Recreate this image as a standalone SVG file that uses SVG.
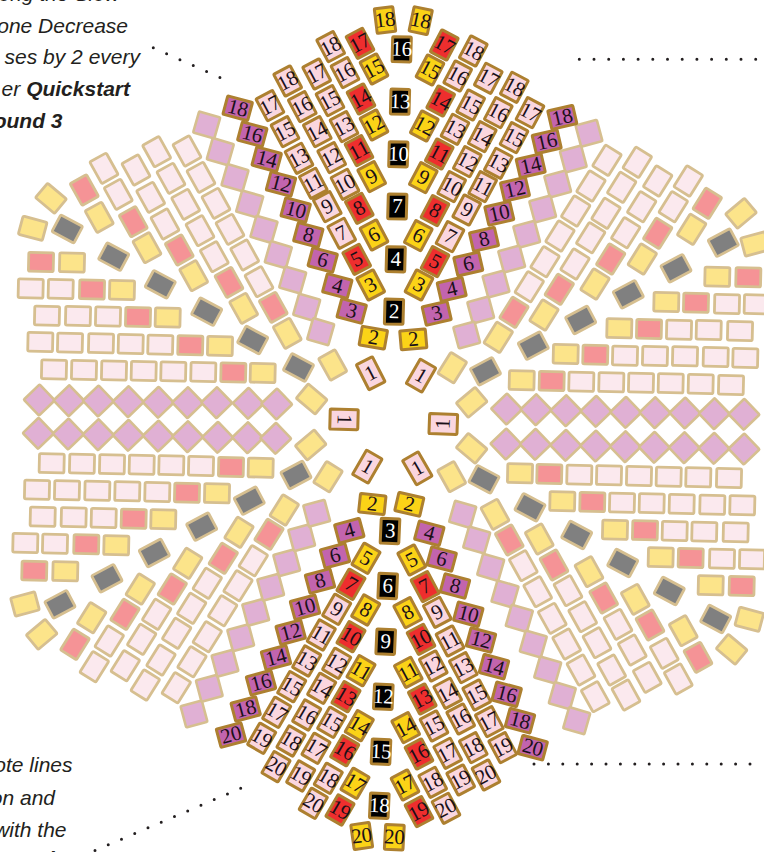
<svg xmlns="http://www.w3.org/2000/svg" width="764" height="852" viewBox="0 0 764 852">
<style>
.p,.s,.y,.g,.m{stroke:#d6bf90}
.p{fill:#fbe9ee}.s{fill:#f59396}.y{fill:#fce48a}.g{fill:#808080}.m{fill:#e0b0d4}
.ny,.nr,.nk,.np,.nm{stroke:#ad8030}
.ny{fill:#fbd317}.nr{fill:#ee2e2e}.nk{fill:#000}.np{fill:#fad6df}.nm{fill:#c264ae}
text{stroke:none}
.num text{font-family:"Liberation Serif",serif;font-size:21px;fill:#1a1018;text-anchor:middle;letter-spacing:-.3px}
.nk text{fill:#fff}
.note{font-family:"Liberation Sans",sans-serif;font-size:21px;font-style:italic;fill:#231f20;text-anchor:end}
.note tspan{font-weight:bold}
.dot{fill:none;stroke:#231f20;stroke-width:3;stroke-linecap:round}
</style>
<defs>
<rect id="r0" x="-12.4" y="-9.4" width="24.8" height="18.8" rx="1.5" stroke-width="2.8"/>
<rect id="q0" x="-11" y="-11" width="22" height="22" rx="1" stroke-width="2.6"/>
<use id="H" href="#r0" transform="rotate(1.3)"/>
<use id="A" href="#r0" transform="rotate(61)"/>
<use id="B" href="#r0" transform="rotate(-58)"/>
<use id="C" href="#r0" transform="rotate(28)"/>
<use id="D" href="#r0" transform="rotate(-28)"/>
<use id="E" href="#r0" transform="rotate(40)"/>
<use id="F" href="#r0" transform="rotate(-40)"/>
<use id="I" href="#r0" transform="rotate(15)"/>
<use id="J" href="#r0" transform="rotate(-15)"/>
<use id="Q" href="#q0" transform="rotate(46)"/>
<use id="S" href="#q0" transform="rotate(16)"/>
<use id="T" href="#q0" transform="rotate(-15)"/>
<rect id="P" x="-9.3" y="-12.4" width="18.6" height="24.8" rx="1" stroke-width="3"/>
<rect id="L" x="-12.8" y="-9.4" width="25.6" height="18.8" rx="1" stroke-width="3"/>
<rect id="O" x="-9" y="-14" width="18" height="28" rx="1" stroke-width="3"/>
<rect id="W" x="-14" y="-10" width="28" height="20" rx="1" stroke-width="3"/>
</defs>

<g id="notes">
<text class="note" x="120" y="1">ong the Slow</text>
<text class="note" x="128" y="33">one Decrease</text>
<text class="note" x="140" y="64">ses by 2 every</text>
<text class="note" x="130" y="96">er <tspan>Quickstart</tspan></text>
<text class="note" x="62.5" y="128"><tspan>ound 3</tspan></text>
<text class="note" x="72.5" y="772">ote lines</text>
<text class="note" x="55" y="805">on and</text>
<text class="note" x="66.5" y="836.5">with the</text>
<text class="note" style="text-anchor:start" x="22" y="866"><tspan>Point</tspan></text>
</g>

<g id="connectors">
<path class="dot" stroke-dasharray="0 14.6" d="M153.3 47.7L222 78.5"/>
<path class="dot" stroke-dasharray="0 14.7" d="M579.3 59.3H758"/>
<path class="dot" stroke-dasharray="0 14.4" d="M534 764H762"/>
<path class="dot" stroke-dasharray="0 14.4" d="M240.7 788.3L93.7 851"/>
</g>

<g id="pale-tiles">
<!-- rows left -->
<use href="#H" class="s" x="41" y="262"/><use href="#H" class="y" x="72" y="262.5"/>
<use href="#H" class="p" x="30.7" y="288.5"/><use href="#H" class="p" x="60.7" y="289"/><use href="#H" class="s" x="92" y="289.5"/><use href="#H" class="y" x="122" y="290"/>
<use href="#H" class="p" x="47" y="315.7"/><use href="#H" class="p" x="78" y="316"/><use href="#H" class="p" x="108" y="316.5"/><use href="#H" class="s" x="138" y="317"/><use href="#H" class="y" x="167.7" y="317.5"/>
<use href="#H" class="p" x="40.3" y="342"/><use href="#H" class="p" x="70" y="342.7"/><use href="#H" class="p" x="101" y="343.3"/><use href="#H" class="p" x="130.7" y="344"/><use href="#H" class="p" x="160.3" y="344.7"/><use href="#H" class="s" x="190.3" y="345.3"/><use href="#H" class="y" x="220" y="346"/>
<use href="#H" class="p" x="54" y="369.5"/><use href="#H" class="p" x="84" y="370"/><use href="#H" class="p" x="114" y="370.5"/><use href="#H" class="p" x="143.7" y="371"/><use href="#H" class="p" x="173.3" y="371.5"/><use href="#H" class="p" x="203.3" y="372"/><use href="#H" class="s" x="233.3" y="372.5"/><use href="#H" class="y" x="262.7" y="373"/>
<use href="#H" class="p" x="51.7" y="463.3"/><use href="#H" class="p" x="82" y="463.7"/><use href="#H" class="p" x="112" y="464.3"/><use href="#H" class="p" x="141.7" y="464.7"/><use href="#H" class="p" x="171.3" y="465.3"/><use href="#H" class="p" x="201" y="466"/><use href="#H" class="s" x="231" y="467"/><use href="#H" class="y" x="260.7" y="467.7"/>
<use href="#H" class="p" x="37" y="489.7"/><use href="#H" class="p" x="67" y="490.3"/><use href="#H" class="p" x="97.3" y="490.7"/><use href="#H" class="p" x="127.3" y="491.3"/><use href="#H" class="p" x="157.3" y="492"/><use href="#H" class="s" x="187" y="492.7"/><use href="#H" class="y" x="217" y="493.3"/>
<use href="#H" class="p" x="42.7" y="516.7"/><use href="#H" class="p" x="73.7" y="517.3"/><use href="#H" class="p" x="103.7" y="518"/><use href="#H" class="s" x="133.7" y="518.7"/><use href="#H" class="y" x="163.3" y="519.3"/>
<use href="#H" class="p" x="25.3" y="543"/><use href="#H" class="p" x="55" y="543.7"/><use href="#H" class="s" x="86.3" y="544.3"/><use href="#H" class="y" x="116.3" y="545.3"/>
<use href="#H" class="s" x="34.3" y="570.7"/><use href="#H" class="y" x="65.3" y="571.3"/>
<!-- rows right -->
<use href="#H" class="y" x="717.3" y="276.7"/><use href="#H" class="s" x="748.3" y="277.3"/>
<use href="#H" class="y" x="666.3" y="302"/><use href="#H" class="s" x="696" y="302.7"/><use href="#H" class="p" x="727" y="304"/><use href="#H" class="p" x="756.7" y="304.3"/>
<use href="#H" class="y" x="619.3" y="328.3"/><use href="#H" class="s" x="649" y="329"/><use href="#H" class="p" x="679" y="329.7"/><use href="#H" class="p" x="708.7" y="330"/><use href="#H" class="p" x="740" y="331"/>
<use href="#H" class="y" x="565.7" y="354"/><use href="#H" class="s" x="595.3" y="354.7"/><use href="#H" class="p" x="625" y="355.7"/><use href="#H" class="p" x="655" y="356"/><use href="#H" class="p" x="685" y="356.3"/><use href="#H" class="p" x="715.7" y="357"/><use href="#H" class="p" x="745.3" y="358"/>
<use href="#H" class="y" x="521.7" y="380.3"/><use href="#H" class="s" x="551.7" y="381"/><use href="#H" class="p" x="581.3" y="381.7"/><use href="#H" class="p" x="611.3" y="382.3"/><use href="#H" class="p" x="641" y="382.7"/><use href="#H" class="p" x="670.7" y="383.3"/><use href="#H" class="p" x="700.7" y="384"/><use href="#H" class="p" x="731" y="385"/>
<use href="#H" class="y" x="520" y="473.3"/><use href="#H" class="s" x="549.3" y="474"/><use href="#H" class="p" x="579.3" y="474.7"/><use href="#H" class="p" x="609" y="475.3"/><use href="#H" class="p" x="639" y="476"/><use href="#H" class="p" x="668.7" y="476.7"/><use href="#H" class="p" x="698.3" y="477.3"/><use href="#H" class="p" x="729" y="478"/>
<use href="#H" class="y" x="562.3" y="501.3"/><use href="#H" class="s" x="592.3" y="502"/><use href="#H" class="p" x="622" y="502.7"/><use href="#H" class="p" x="651.7" y="503.3"/><use href="#H" class="p" x="681.7" y="504"/><use href="#H" class="p" x="712.3" y="504.7"/><use href="#H" class="p" x="742.3" y="505.3"/>
<use href="#H" class="y" x="615" y="529.7"/><use href="#H" class="s" x="645" y="530.3"/><use href="#H" class="p" x="674.7" y="531"/><use href="#H" class="p" x="704.3" y="531.7"/><use href="#H" class="p" x="735.7" y="532.3"/>
<use href="#H" class="y" x="660.7" y="557.3"/><use href="#H" class="s" x="690.7" y="558"/><use href="#H" class="p" x="722" y="558.7"/><use href="#H" class="p" x="752" y="559.3"/>
<use href="#H" class="y" x="710.7" y="585.3"/><use href="#H" class="s" x="741.7" y="586"/>
<!-- diamonds -->
<use href="#Q" class="m" x="39.3" y="400"/><use href="#Q" class="m" x="69" y="400.7"/><use href="#Q" class="m" x="98.3" y="401"/><use href="#Q" class="m" x="128.3" y="401.7"/><use href="#Q" class="m" x="158.3" y="402.3"/><use href="#Q" class="m" x="187.7" y="402.7"/><use href="#Q" class="m" x="216.7" y="402.7"/><use href="#Q" class="m" x="248.3" y="403.3"/><use href="#Q" class="m" x="276.7" y="404"/>
<use href="#Q" class="m" x="38.3" y="433.3"/><use href="#Q" class="m" x="68.3" y="434"/><use href="#Q" class="m" x="98.3" y="434.7"/><use href="#Q" class="m" x="128.3" y="435.3"/><use href="#Q" class="m" x="158.3" y="436"/><use href="#Q" class="m" x="187.7" y="436.7"/><use href="#Q" class="m" x="217.7" y="437.3"/><use href="#Q" class="m" x="247.7" y="437.7"/><use href="#Q" class="m" x="275.7" y="438.3"/>
<use href="#Q" class="m" x="506.7" y="409"/><use href="#Q" class="m" x="536" y="409.7"/><use href="#Q" class="m" x="566" y="410.7"/><use href="#Q" class="m" x="596" y="411.3"/><use href="#Q" class="m" x="625.7" y="412.3"/><use href="#Q" class="m" x="655" y="412.7"/><use href="#Q" class="m" x="685" y="413"/><use href="#Q" class="m" x="714.3" y="413.7"/><use href="#Q" class="m" x="744" y="414.3"/>
<use href="#Q" class="m" x="506" y="444"/><use href="#Q" class="m" x="535.3" y="444.3"/><use href="#Q" class="m" x="565.7" y="445.3"/><use href="#Q" class="m" x="595.7" y="446"/><use href="#Q" class="m" x="625.3" y="446.7"/><use href="#Q" class="m" x="654.3" y="447.3"/><use href="#Q" class="m" x="684.3" y="447.7"/><use href="#Q" class="m" x="714" y="448.3"/><use href="#Q" class="m" x="744" y="449"/>
<!-- mauve strips -->
<use href="#S" class="m" x="206.7" y="125"/><use href="#S" class="m" x="220.3" y="151.7"/><use href="#S" class="m" x="235" y="177.7"/><use href="#S" class="m" x="249.7" y="204"/><use href="#S" class="m" x="264" y="229.3"/><use href="#S" class="m" x="278.3" y="254.7"/><use href="#S" class="m" x="292.7" y="280"/><use href="#S" class="m" x="306.7" y="307.3"/><use href="#S" class="m" x="320.7" y="331.7"/>
<use href="#T" class="m" x="589" y="133.3"/><use href="#T" class="m" x="573.3" y="159"/><use href="#T" class="m" x="557.7" y="184"/><use href="#T" class="m" x="542.7" y="209"/><use href="#T" class="m" x="526.7" y="234.3"/><use href="#T" class="m" x="511.7" y="259"/><use href="#T" class="m" x="496" y="284"/><use href="#T" class="m" x="480.7" y="310"/><use href="#T" class="m" x="466.7" y="335"/>
<use href="#T" class="m" x="194" y="714"/><use href="#T" class="m" x="209.3" y="688.3"/><use href="#T" class="m" x="225" y="663.3"/><use href="#T" class="m" x="240.7" y="637.7"/><use href="#T" class="m" x="255.7" y="612.3"/><use href="#T" class="m" x="270.7" y="587.3"/><use href="#T" class="m" x="286.7" y="562.7"/><use href="#T" class="m" x="301.7" y="537.7"/><use href="#T" class="m" x="316.7" y="513.3"/>
<use href="#S" class="m" x="462.7" y="514.3"/><use href="#S" class="m" x="476.7" y="540"/><use href="#S" class="m" x="490.7" y="567.3"/><use href="#S" class="m" x="505" y="594"/><use href="#S" class="m" x="519.3" y="618.3"/><use href="#S" class="m" x="533.3" y="644"/><use href="#S" class="m" x="547.7" y="670"/><use href="#S" class="m" x="562.3" y="695.7"/><use href="#S" class="m" x="576.7" y="720.7"/>
<!-- upper-left strips -->
<use href="#A" class="s" x="84.3" y="190"/><use href="#A" class="y" x="99.3" y="217.3"/>
<use href="#A" class="p" x="104" y="168.3"/><use href="#A" class="p" x="118.3" y="194.3"/><use href="#A" class="s" x="133.3" y="221.7"/><use href="#A" class="y" x="147" y="247.7"/>
<use href="#A" class="p" x="136" y="170"/><use href="#A" class="p" x="150.7" y="197.3"/><use href="#A" class="p" x="165" y="224"/><use href="#A" class="s" x="179.3" y="250"/><use href="#A" class="y" x="193.7" y="275.7"/>
<use href="#A" class="p" x="156.7" y="151.7"/><use href="#A" class="p" x="171" y="178.3"/><use href="#A" class="p" x="185.7" y="204.3"/><use href="#A" class="p" x="200" y="230.7"/><use href="#A" class="p" x="214.3" y="256.7"/><use href="#A" class="s" x="229" y="282.3"/><use href="#A" class="y" x="243.7" y="308.3"/>
<use href="#A" class="p" x="187" y="151"/><use href="#A" class="p" x="201" y="177.3"/><use href="#A" class="p" x="216" y="203.3"/><use href="#A" class="p" x="230" y="229.3"/><use href="#A" class="p" x="244.7" y="255"/><use href="#A" class="p" x="259" y="281.7"/><use href="#A" class="s" x="273.3" y="307.3"/><use href="#A" class="y" x="287.3" y="333.3"/>
<use href="#E" class="y" x="51" y="198.3"/><use href="#I" class="y" x="32.7" y="228.3"/>
<use href="#C" class="g" x="67.3" y="229"/><use href="#C" class="g" x="113.7" y="256.7"/><use href="#C" class="g" x="160.3" y="284.3"/><use href="#C" class="g" x="206.7" y="311.7"/><use href="#C" class="g" x="252.7" y="340"/><use href="#C" class="g" x="298.5" y="367.5"/>
<!-- upper-right strips -->
<use href="#B" class="p" x="607" y="160.3"/><use href="#B" class="p" x="591" y="186"/><use href="#B" class="p" x="575.7" y="211"/><use href="#B" class="p" x="560" y="236"/><use href="#B" class="p" x="545" y="261.7"/><use href="#B" class="p" x="529.3" y="286.7"/><use href="#B" class="s" x="514" y="312.3"/><use href="#B" class="y" x="498.3" y="337.3"/>
<use href="#B" class="p" x="637.3" y="162.3"/><use href="#B" class="p" x="621.7" y="187.3"/><use href="#B" class="p" x="606" y="213.3"/><use href="#B" class="p" x="590.7" y="237.7"/><use href="#B" class="p" x="575" y="264"/><use href="#B" class="s" x="559.3" y="289.3"/><use href="#B" class="y" x="544" y="315"/>
<use href="#B" class="p" x="657.7" y="181"/><use href="#B" class="p" x="641.7" y="206.7"/><use href="#B" class="p" x="625.7" y="232.7"/><use href="#B" class="s" x="610.7" y="259"/><use href="#B" class="y" x="595" y="284"/>
<use href="#B" class="p" x="688.3" y="181"/><use href="#B" class="p" x="673.3" y="206.7"/><use href="#B" class="s" x="657.7" y="233.3"/><use href="#B" class="y" x="642.3" y="259"/>
<use href="#B" class="s" x="707.3" y="203.3"/><use href="#B" class="y" x="691.7" y="229.3"/>
<use href="#F" class="y" x="741" y="213.3"/><use href="#J" class="y" x="755" y="244"/>
<use href="#D" class="g" x="723.3" y="242.7"/><use href="#D" class="g" x="676" y="268.3"/><use href="#D" class="g" x="628.3" y="294.3"/><use href="#D" class="g" x="580.7" y="320"/><use href="#D" class="g" x="533.3" y="345.7"/><use href="#D" class="g" x="485.5" y="371.3"/>
<!-- lower-left strips -->
<use href="#B" class="s" x="75" y="644.3"/><use href="#B" class="y" x="91.7" y="617.7"/>
<use href="#B" class="p" x="94.3" y="666.7"/><use href="#B" class="p" x="109.3" y="641"/><use href="#B" class="s" x="125" y="614.3"/><use href="#B" class="y" x="140.3" y="589"/>
<use href="#B" class="p" x="125.3" y="665.7"/><use href="#B" class="p" x="141.7" y="639.3"/><use href="#B" class="p" x="156.7" y="614.3"/><use href="#B" class="s" x="172.3" y="589"/><use href="#B" class="y" x="187.7" y="563.3"/>
<use href="#B" class="p" x="145.3" y="685"/><use href="#B" class="p" x="161" y="660"/><use href="#B" class="p" x="176.7" y="633.3"/><use href="#B" class="p" x="191.7" y="608.3"/><use href="#B" class="p" x="207.3" y="583.3"/><use href="#B" class="s" x="223.3" y="558.3"/><use href="#B" class="y" x="239" y="532.3"/>
<use href="#B" class="p" x="176.3" y="687.7"/><use href="#B" class="p" x="192" y="661.7"/><use href="#B" class="p" x="207.3" y="636.7"/><use href="#B" class="p" x="222.7" y="610.7"/><use href="#B" class="p" x="238" y="585.7"/><use href="#B" class="p" x="253.3" y="560.7"/><use href="#B" class="s" x="269" y="534.3"/><use href="#B" class="y" x="284.3" y="510"/>
<use href="#J" class="y" x="25" y="604"/><use href="#F" class="y" x="41.7" y="634.3"/>
<use href="#D" class="g" x="60" y="604.3"/><use href="#D" class="g" x="107" y="578.3"/><use href="#D" class="g" x="154.3" y="553"/><use href="#D" class="g" x="201.7" y="526.7"/><use href="#D" class="g" x="249.3" y="500.7"/><use href="#D" class="g" x="296" y="475"/>
<!-- lower-right strips -->
<use href="#A" class="y" x="495" y="514.3"/><use href="#A" class="s" x="509.3" y="540"/><use href="#A" class="p" x="523.3" y="565.7"/><use href="#A" class="p" x="537.7" y="591.7"/><use href="#A" class="p" x="552.3" y="618.3"/><use href="#A" class="p" x="566.7" y="644"/><use href="#A" class="p" x="581" y="670"/><use href="#A" class="p" x="595.3" y="696.7"/>
<use href="#A" class="y" x="539.3" y="539"/><use href="#A" class="s" x="554" y="565"/><use href="#A" class="p" x="568" y="590.7"/><use href="#A" class="p" x="582.7" y="616.7"/><use href="#A" class="p" x="597" y="642.7"/><use href="#A" class="p" x="611.7" y="670"/><use href="#A" class="p" x="626" y="695"/>
<use href="#A" class="y" x="589" y="571.7"/><use href="#A" class="s" x="603.7" y="598"/><use href="#A" class="p" x="618" y="624.3"/><use href="#A" class="p" x="632.3" y="650"/><use href="#A" class="p" x="647.3" y="677.3"/>
<use href="#A" class="y" x="635.3" y="599.3"/><use href="#A" class="s" x="650" y="625"/><use href="#A" class="p" x="664.3" y="653.3"/><use href="#A" class="p" x="678.3" y="679"/>
<use href="#A" class="y" x="683.3" y="630.7"/><use href="#A" class="s" x="698" y="657.3"/>
<use href="#I" class="y" x="749.3" y="619.3"/><use href="#E" class="y" x="731.7" y="649.3"/>
<use href="#C" class="g" x="715.7" y="619"/><use href="#C" class="g" x="669.3" y="591"/><use href="#C" class="g" x="622.7" y="563"/><use href="#C" class="g" x="576.7" y="535"/><use href="#C" class="g" x="530" y="507.3"/><use href="#C" class="g" x="484" y="479.3"/>
<!-- ring near centre -->
<use href="#A" class="y" x="332.7" y="365"/><use href="#E" class="y" x="311.7" y="399"/><use href="#F" class="y" x="310.7" y="445"/><use href="#B" class="y" x="328" y="476.7"/>
<use href="#B" class="y" x="452.3" y="367.7"/><use href="#F" class="y" x="471.7" y="402.3"/><use href="#E" class="y" x="471.7" y="448.3"/><use href="#A" class="y" x="451.7" y="476.7"/>
</g>

<g id="numbered-tiles" class="num">
<!-- centre -->
<g class="np" transform="translate(370.7 373.3)rotate(-27)"><use href="#O"/><text y="6.5">1</text></g>
<g class="np" transform="translate(421 375.7)rotate(30)"><use href="#O"/><text y="6.5">1</text></g>
<g class="np" transform="translate(344 419.3)rotate(1.5)"><use href="#W"/><text transform="rotate(90)" y="6.5">1</text></g>
<g class="np" transform="translate(443.3 424)rotate(2)"><use href="#W"/><text transform="rotate(-90)" y="6.5">1</text></g>
<g class="np" transform="translate(367.3 466.7)rotate(30)"><use href="#O"/><text y="6.5">1</text></g>
<g class="np" transform="translate(417.3 468.3)rotate(-30)"><use href="#O"/><text y="6.5">1</text></g>
<g class="ny" transform="translate(373.3 337.7)rotate(10)"><use href="#L"/><text y="6.5">2</text></g>
<g class="ny" transform="translate(413.3 339.3)rotate(-5)"><use href="#L"/><text y="6.5">2</text></g>
<g class="ny" transform="translate(372.3 504)rotate(6)"><use href="#L"/><text y="6.5">2</text></g>
<g class="ny" transform="translate(409.3 504.3)rotate(13)"><use href="#L"/><text y="6.5">2</text></g>
<g class="ny" transform="translate(385 20)rotate(-7)"><use href="#P"/><text y="6.5">18</text></g>
<g class="ny" transform="translate(420.7 20.7)rotate(12)"><use href="#P"/><text y="6.5">18</text></g>
<g class="ny" transform="translate(361.7 836)rotate(-8)"><use href="#P"/><text y="6.5">20</text></g>
<g class="ny" transform="translate(394.3 837.3)rotate(3)"><use href="#P"/><text y="6.5">20</text></g>
<!-- black top -->
<g class="nk" transform="translate(401.7 49.3)rotate(1.5)"><use href="#P"/><text y="6.5">16</text></g>
<g class="nk" transform="translate(400 101.7)rotate(1.5)"><use href="#P"/><text y="6.5">13</text></g>
<g class="nk" transform="translate(398.3 154.3)rotate(1.5)"><use href="#P"/><text y="6.5">10</text></g>
<g class="nk" transform="translate(397.3 206.5)rotate(1.5)"><use href="#P"/><text y="6.5">7</text></g>
<g class="nk" transform="translate(395.7 259.3)rotate(1.5)"><use href="#P"/><text y="6.5">4</text></g>
<g class="nk" transform="translate(394 311.7)rotate(1.5)"><use href="#P"/><text y="6.5">2</text></g>
<!-- black bottom -->
<g class="nk" transform="translate(390 531)rotate(2.5)"><use href="#P"/><text y="6.5">3</text></g>
<g class="nk" transform="translate(387.7 586)rotate(2.5)"><use href="#P"/><text y="6.5">6</text></g>
<g class="nk" transform="translate(385.7 641.7)rotate(2.5)"><use href="#P"/><text y="6.5">9</text></g>
<g class="nk" transform="translate(383.3 696.7)rotate(2.5)"><use href="#P"/><text y="6.5">12</text></g>
<g class="nk" transform="translate(381 751.7)rotate(2.5)"><use href="#P"/><text y="6.5">15</text></g>
<g class="nk" transform="translate(379.3 805.7)rotate(2.5)"><use href="#P"/><text y="6.5">18</text></g>
<!-- upper left -->
<g class="ny" transform="translate(374 69)rotate(-28)"><use href="#P"/><text y="6.5">15</text></g>
<g class="ny" transform="translate(374 125)rotate(-28)"><use href="#P"/><text y="6.5">12</text></g>
<g class="ny" transform="translate(371.7 176.7)rotate(-28)"><use href="#P"/><text y="6.5">9</text></g>
<g class="ny" transform="translate(374 235)rotate(-28)"><use href="#P"/><text y="6.5">6</text></g>
<g class="ny" transform="translate(370.7 285)rotate(-28)"><use href="#P"/><text y="6.5">3</text></g>
<g class="nr" transform="translate(360 43.3)rotate(-28)"><use href="#P"/><text y="6.5">17</text></g>
<g class="nr" transform="translate(361 99)rotate(-28)"><use href="#P"/><text y="6.5">14</text></g>
<g class="nr" transform="translate(359 150.7)rotate(-28)"><use href="#P"/><text y="6.5">11</text></g>
<g class="nr" transform="translate(359.3 208.3)rotate(-28)"><use href="#P"/><text y="6.5">8</text></g>
<g class="nr" transform="translate(356.7 259.3)rotate(-28)"><use href="#P"/><text y="6.5">5</text></g>
<g class="np" transform="translate(330.7 46.7)rotate(-28)"><use href="#P"/><text y="6.5">18</text></g>
<g class="np" transform="translate(345 72.7)rotate(-28)"><use href="#P"/><text y="6.5">16</text></g>
<g class="np" transform="translate(330 100.7)rotate(-28)"><use href="#P"/><text y="6.5">15</text></g>
<g class="np" transform="translate(344 126.7)rotate(-28)"><use href="#P"/><text y="6.5">13</text></g>
<g class="np" transform="translate(331.7 157.7)rotate(-28)"><use href="#P"/><text y="6.5">12</text></g>
<g class="np" transform="translate(345 184.3)rotate(-28)"><use href="#P"/><text y="6.5">10</text></g>
<g class="np" transform="translate(327.3 206.7)rotate(-28)"><use href="#P"/><text y="6.5">9</text></g>
<g class="np" transform="translate(341.7 233.3)rotate(-28)"><use href="#P"/><text y="6.5">7</text></g>
<g class="np" transform="translate(316.7 74)rotate(-28)"><use href="#P"/><text y="6.5">17</text></g>
<g class="np" transform="translate(287.7 81)rotate(-28)"><use href="#P"/><text y="6.5">18</text></g>
<g class="np" transform="translate(302.3 106.7)rotate(-28)"><use href="#P"/><text y="6.5">16</text></g>
<g class="np" transform="translate(317.3 131.7)rotate(-28)"><use href="#P"/><text y="6.5">14</text></g>
<g class="np" transform="translate(270 105.7)rotate(-28)"><use href="#P"/><text y="6.5">17</text></g>
<g class="np" transform="translate(285 131.7)rotate(-28)"><use href="#P"/><text y="6.5">15</text></g>
<g class="np" transform="translate(299 158.3)rotate(-28)"><use href="#P"/><text y="6.5">13</text></g>
<g class="np" transform="translate(313.3 183.3)rotate(-28)"><use href="#P"/><text y="6.5">11</text></g>
<g class="nm" transform="translate(237.7 108.3)rotate(15)"><use href="#L"/><text y="6.5">18</text></g>
<g class="nm" transform="translate(252.3 134.3)rotate(15)"><use href="#L"/><text y="6.5">16</text></g>
<g class="nm" transform="translate(266.7 159.3)rotate(15)"><use href="#L"/><text y="6.5">14</text></g>
<g class="nm" transform="translate(281 184)rotate(15)"><use href="#L"/><text y="6.5">12</text></g>
<g class="nm" transform="translate(295.7 210)rotate(15)"><use href="#L"/><text y="6.5">10</text></g>
<g class="nm" transform="translate(308.3 235)rotate(15)"><use href="#L"/><text y="6.5">8</text></g>
<g class="nm" transform="translate(322.7 260)rotate(15)"><use href="#L"/><text y="6.5">6</text></g>
<g class="nm" transform="translate(337.3 286)rotate(15)"><use href="#L"/><text y="6.5">4</text></g>
<g class="nm" transform="translate(351.7 311)rotate(15)"><use href="#L"/><text y="6.5">3</text></g>
<!-- upper right -->
<g class="ny" transform="translate(430 70)rotate(28)"><use href="#P"/><text y="6.5">15</text></g>
<g class="ny" transform="translate(424.3 126)rotate(28)"><use href="#P"/><text y="6.5">12</text></g>
<g class="ny" transform="translate(423.3 177.7)rotate(28)"><use href="#P"/><text y="6.5">9</text></g>
<g class="ny" transform="translate(418.3 235.7)rotate(28)"><use href="#P"/><text y="6.5">6</text></g>
<g class="ny" transform="translate(419 285)rotate(28)"><use href="#P"/><text y="6.5">3</text></g>
<g class="nr" transform="translate(444.3 45)rotate(28)"><use href="#P"/><text y="6.5">17</text></g>
<g class="nr" transform="translate(440.7 101)rotate(28)"><use href="#P"/><text y="6.5">14</text></g>
<g class="nr" transform="translate(439.3 154)rotate(28)"><use href="#P"/><text y="6.5">11</text></g>
<g class="nr" transform="translate(435 210.7)rotate(28)"><use href="#P"/><text y="6.5">8</text></g>
<g class="nr" transform="translate(435 261.7)rotate(28)"><use href="#P"/><text y="6.5">5</text></g>
<g class="np" transform="translate(473.3 51)rotate(28)"><use href="#P"/><text y="6.5">18</text></g>
<g class="np" transform="translate(457.7 76)rotate(28)"><use href="#P"/><text y="6.5">16</text></g>
<g class="np" transform="translate(470.7 105)rotate(28)"><use href="#P"/><text y="6.5">15</text></g>
<g class="np" transform="translate(455 129.3)rotate(28)"><use href="#P"/><text y="6.5">13</text></g>
<g class="np" transform="translate(467.3 161.7)rotate(28)"><use href="#P"/><text y="6.5">12</text></g>
<g class="np" transform="translate(451.7 186.7)rotate(28)"><use href="#P"/><text y="6.5">10</text></g>
<g class="np" transform="translate(466.7 210)rotate(28)"><use href="#P"/><text y="6.5">9</text></g>
<g class="np" transform="translate(450 236.7)rotate(28)"><use href="#P"/><text y="6.5">7</text></g>
<g class="np" transform="translate(488.3 78.3)rotate(28)"><use href="#P"/><text y="6.5">17</text></g>
<g class="np" transform="translate(514.3 87.3)rotate(28)"><use href="#P"/><text y="6.5">18</text></g>
<g class="np" transform="translate(498.3 112.7)rotate(28)"><use href="#P"/><text y="6.5">16</text></g>
<g class="np" transform="translate(482.3 136.7)rotate(28)"><use href="#P"/><text y="6.5">14</text></g>
<g class="np" transform="translate(530 112.7)rotate(28)"><use href="#P"/><text y="6.5">17</text></g>
<g class="np" transform="translate(514 137.7)rotate(28)"><use href="#P"/><text y="6.5">15</text></g>
<g class="np" transform="translate(498.3 163.3)rotate(28)"><use href="#P"/><text y="6.5">13</text></g>
<g class="np" transform="translate(482.7 186.7)rotate(28)"><use href="#P"/><text y="6.5">11</text></g>
<g class="nm" transform="translate(562.3 117.3)rotate(-13)"><use href="#L"/><text y="6.5">18</text></g>
<g class="nm" transform="translate(546.7 141.7)rotate(-13)"><use href="#L"/><text y="6.5">16</text></g>
<g class="nm" transform="translate(530.7 165.7)rotate(-13)"><use href="#L"/><text y="6.5">14</text></g>
<g class="nm" transform="translate(515 189.3)rotate(-13)"><use href="#L"/><text y="6.5">12</text></g>
<g class="nm" transform="translate(499.3 213.3)rotate(-13)"><use href="#L"/><text y="6.5">10</text></g>
<g class="nm" transform="translate(484 239.3)rotate(-13)"><use href="#L"/><text y="6.5">8</text></g>
<g class="nm" transform="translate(468.3 264)rotate(-13)"><use href="#L"/><text y="6.5">6</text></g>
<g class="nm" transform="translate(451.7 289.3)rotate(-13)"><use href="#L"/><text y="6.5">4</text></g>
<g class="nm" transform="translate(436.7 313.3)rotate(-13)"><use href="#L"/><text y="6.5">3</text></g>
<!-- lower left -->
<g class="ny" transform="translate(366 558.3)rotate(30)"><use href="#P"/><text y="6.5">5</text></g>
<g class="ny" transform="translate(365.7 610)rotate(30)"><use href="#P"/><text y="6.5">8</text></g>
<g class="ny" transform="translate(361 670.7)rotate(30)"><use href="#P"/><text y="6.5">11</text></g>
<g class="ny" transform="translate(359.3 725.7)rotate(30)"><use href="#P"/><text y="6.5">14</text></g>
<g class="ny" transform="translate(355 783.3)rotate(30)"><use href="#P"/><text y="6.5">17</text></g>
<g class="nr" transform="translate(351 584.3)rotate(30)"><use href="#P"/><text y="6.5">7</text></g>
<g class="nr" transform="translate(351 636.7)rotate(30)"><use href="#P"/><text y="6.5">10</text></g>
<g class="nr" transform="translate(346 696.7)rotate(30)"><use href="#P"/><text y="6.5">13</text></g>
<g class="nr" transform="translate(344.7 750.7)rotate(30)"><use href="#P"/><text y="6.5">16</text></g>
<g class="nr" transform="translate(340 810)rotate(30)"><use href="#P"/><text y="6.5">19</text></g>
<g class="np" transform="translate(336.7 609.3)rotate(30)"><use href="#P"/><text y="6.5">9</text></g>
<g class="np" transform="translate(336.7 663.3)rotate(30)"><use href="#P"/><text y="6.5">12</text></g>
<g class="np" transform="translate(331.7 722.3)rotate(30)"><use href="#P"/><text y="6.5">15</text></g>
<g class="np" transform="translate(328.3 778.3)rotate(30)"><use href="#P"/><text y="6.5">18</text></g>
<g class="np" transform="translate(313.3 803.3)rotate(30)"><use href="#P"/><text y="6.5">20</text></g>
<g class="np" transform="translate(321.3 635)rotate(30)"><use href="#P"/><text y="6.5">11</text></g>
<g class="np" transform="translate(321.7 688.3)rotate(30)"><use href="#P"/><text y="6.5">14</text></g>
<g class="np" transform="translate(316 748.3)rotate(30)"><use href="#P"/><text y="6.5">17</text></g>
<g class="np" transform="translate(300.7 776)rotate(30)"><use href="#P"/><text y="6.5">19</text></g>
<g class="np" transform="translate(306.7 661)rotate(30)"><use href="#P"/><text y="6.5">13</text></g>
<g class="np" transform="translate(306.7 715)rotate(30)"><use href="#P"/><text y="6.5">16</text></g>
<g class="np" transform="translate(291 741)rotate(30)"><use href="#P"/><text y="6.5">18</text></g>
<g class="np" transform="translate(276 766.7)rotate(30)"><use href="#P"/><text y="6.5">20</text></g>
<g class="np" transform="translate(291.7 686.7)rotate(30)"><use href="#P"/><text y="6.5">15</text></g>
<g class="np" transform="translate(276.7 712.3)rotate(30)"><use href="#P"/><text y="6.5">17</text></g>
<g class="np" transform="translate(261.7 738.3)rotate(30)"><use href="#P"/><text y="6.5">19</text></g>
<g class="nm" transform="translate(349.3 530.7)rotate(-15)"><use href="#L"/><text y="6.5">4</text></g>
<g class="nm" transform="translate(335 555.7)rotate(-15)"><use href="#L"/><text y="6.5">6</text></g>
<g class="nm" transform="translate(320 581)rotate(-15)"><use href="#L"/><text y="6.5">8</text></g>
<g class="nm" transform="translate(305 607.3)rotate(-15)"><use href="#L"/><text y="6.5">10</text></g>
<g class="nm" transform="translate(290.7 632.3)rotate(-15)"><use href="#L"/><text y="6.5">12</text></g>
<g class="nm" transform="translate(276 657.7)rotate(-15)"><use href="#L"/><text y="6.5">14</text></g>
<g class="nm" transform="translate(261 682.7)rotate(-15)"><use href="#L"/><text y="6.5">16</text></g>
<g class="nm" transform="translate(245.7 709)rotate(-15)"><use href="#L"/><text y="6.5">18</text></g>
<g class="nm" transform="translate(231 735)rotate(-15)"><use href="#L"/><text y="6.5">20</text></g>
<!-- lower right -->
<g class="ny" transform="translate(411.7 560)rotate(-28)"><use href="#P"/><text y="6.5">5</text></g>
<g class="ny" transform="translate(407.7 612.7)rotate(-28)"><use href="#P"/><text y="6.5">8</text></g>
<g class="ny" transform="translate(408.3 672.3)rotate(-28)"><use href="#P"/><text y="6.5">11</text></g>
<g class="ny" transform="translate(405.7 727.7)rotate(-28)"><use href="#P"/><text y="6.5">14</text></g>
<g class="ny" transform="translate(405 785)rotate(-28)"><use href="#P"/><text y="6.5">17</text></g>
<g class="nr" transform="translate(425 586.7)rotate(-28)"><use href="#P"/><text y="6.5">7</text></g>
<g class="nr" transform="translate(421 639.3)rotate(-28)"><use href="#P"/><text y="6.5">10</text></g>
<g class="nr" transform="translate(422.3 699)rotate(-28)"><use href="#P"/><text y="6.5">13</text></g>
<g class="nr" transform="translate(419 754)rotate(-28)"><use href="#P"/><text y="6.5">16</text></g>
<g class="nr" transform="translate(419 811.7)rotate(-28)"><use href="#P"/><text y="6.5">19</text></g>
<g class="np" transform="translate(437.3 612.3)rotate(-28)"><use href="#P"/><text y="6.5">9</text></g>
<g class="np" transform="translate(433.3 666)rotate(-28)"><use href="#P"/><text y="6.5">12</text></g>
<g class="np" transform="translate(434 726)rotate(-28)"><use href="#P"/><text y="6.5">15</text></g>
<g class="np" transform="translate(432.7 782.3)rotate(-28)"><use href="#P"/><text y="6.5">18</text></g>
<g class="np" transform="translate(446 808.3)rotate(-28)"><use href="#P"/><text y="6.5">20</text></g>
<g class="np" transform="translate(450 641)rotate(-28)"><use href="#P"/><text y="6.5">11</text></g>
<g class="np" transform="translate(447.7 693.3)rotate(-28)"><use href="#P"/><text y="6.5">14</text></g>
<g class="np" transform="translate(447.7 753.3)rotate(-28)"><use href="#P"/><text y="6.5">17</text></g>
<g class="np" transform="translate(460.7 780)rotate(-28)"><use href="#P"/><text y="6.5">19</text></g>
<g class="np" transform="translate(463.3 667.7)rotate(-28)"><use href="#P"/><text y="6.5">13</text></g>
<g class="np" transform="translate(460.7 719)rotate(-28)"><use href="#P"/><text y="6.5">16</text></g>
<g class="np" transform="translate(473.3 747.7)rotate(-28)"><use href="#P"/><text y="6.5">18</text></g>
<g class="np" transform="translate(486 775)rotate(-28)"><use href="#P"/><text y="6.5">20</text></g>
<g class="np" transform="translate(476.7 695)rotate(-28)"><use href="#P"/><text y="6.5">15</text></g>
<g class="np" transform="translate(489.3 721.7)rotate(-28)"><use href="#P"/><text y="6.5">17</text></g>
<g class="np" transform="translate(502.7 747.7)rotate(-28)"><use href="#P"/><text y="6.5">19</text></g>
<g class="nm" transform="translate(429.3 533.3)rotate(15)"><use href="#L"/><text y="6.5">4</text></g>
<g class="nm" transform="translate(441.7 559)rotate(15)"><use href="#L"/><text y="6.5">6</text></g>
<g class="nm" transform="translate(455 586)rotate(15)"><use href="#L"/><text y="6.5">8</text></g>
<g class="nm" transform="translate(468.3 614.3)rotate(15)"><use href="#L"/><text y="6.5">10</text></g>
<g class="nm" transform="translate(481 640)rotate(15)"><use href="#L"/><text y="6.5">12</text></g>
<g class="nm" transform="translate(494 666.7)rotate(15)"><use href="#L"/><text y="6.5">14</text></g>
<g class="nm" transform="translate(506.7 694.3)rotate(15)"><use href="#L"/><text y="6.5">16</text></g>
<g class="nm" transform="translate(520 720.7)rotate(15)"><use href="#L"/><text y="6.5">18</text></g>
<g class="nm" transform="translate(532.7 747.7)rotate(15)"><use href="#L"/><text y="6.5">20</text></g>
</g>
</svg>
